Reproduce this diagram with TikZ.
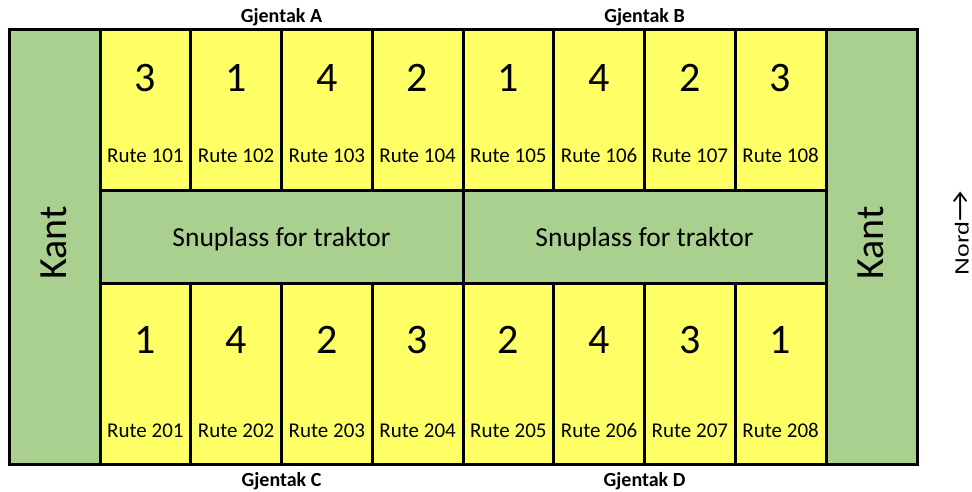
\documentclass[tikz,border=0pt]{standalone}
\usepackage{fontspec}
\setmainfont{Carlito}
\newfontfamily\nordfont{Liberation Sans}
\definecolor{kantgreen}{HTML}{A9D08E}
\definecolor{plotyellow}{HTML}{FFFF66}
\begin{document}
\begin{tikzpicture}[x=1pt,y=-1pt,
  frame/.style={draw=black,line width=3pt},
  plot/.style={frame,fill=plotyellow},
  strip/.style={frame,fill=kantgreen},
  txt/.style={anchor=base,inner sep=0pt},
  treat/.style={txt,font=\fontsize{42}{42}\selectfont},
  rute/.style={txt,font=\fontsize{21}{21}\selectfont},
  repl/.style={txt,font=\bfseries\fontsize{20}{20}\selectfont},
  kant/.style={txt,rotate=90,font=\fontsize{40}{40}\selectfont},
  snu/.style={txt,font=\fontsize{27.5}{27.5}\selectfont}]
\useasboundingbox (0,0) rectangle (972,492);
% edge strips
\draw[strip] (9,30) rectangle (100,464);
\draw[strip] (826,30) rectangle (917,464);
\node[kant] (kantL) at (66,243) {Kant};
\node[kant] (kantR) at (883,243) {Kant};
% turning lanes
\draw[strip] (100,190) rectangle (463,283);
\draw[strip] (463,190) rectangle (826,283);
\node[snu] (snuA) at (281.5,246) {Snuplass for traktor};
\node[snu] (snuB) at (644.5,246) {Snuplass for traktor};
% plots
\foreach \i/\t in {0/3,1/1,2/4,3/2,4/1,5/4,6/2,7/3}{
  \pgfmathsetmacro\xa{100+90.75*\i}
  \pgfmathsetmacro\xb{100+90.75*(\i+1)}
  \pgfmathsetmacro\xm{100+90.75*(\i+0.5)}
  \pgfmathtruncatemacro\n{101+\i}
  \draw[plot] (\xa,30) rectangle (\xb,190);
  \node[treat] (t1\i) at (\xm,91.5) {\t};
  \node[rute] (r1\i) at (\xm,163) {Rute \n};
}
\foreach \i/\t in {0/1,1/4,2/2,3/3,4/2,5/4,6/3,7/1}{
  \pgfmathsetmacro\xa{100+90.75*\i}
  \pgfmathsetmacro\xb{100+90.75*(\i+1)}
  \pgfmathsetmacro\xm{100+90.75*(\i+0.5)}
  \pgfmathtruncatemacro\n{201+\i}
  \draw[plot] (\xa,283) rectangle (\xb,464);
  \node[treat] (t2\i) at (\xm,353) {\t};
  \node[rute] (r2\i) at (\xm,437) {Rute \n};
}
% outer frame
\draw[frame] (9,30) rectangle (917,464);
% replicate labels
\node[repl] (gA) at (281.5,23) {Gjentak A};
\node[repl] (gB) at (644.5,23) {Gjentak B};
\node[repl] (gC) at (281.5,486) {Gjentak C};
\node[repl] (gD) at (644.5,486) {Gjentak D};
% orientation
\node[txt,rotate=90,xscale=1.3,font=\nordfont\fontsize{19}{19}\selectfont] (nord) at (968.5,233)
  {Nord{\rmfamily\fontsize{26}{26}\selectfont →}};
\end{tikzpicture}
\end{document}
